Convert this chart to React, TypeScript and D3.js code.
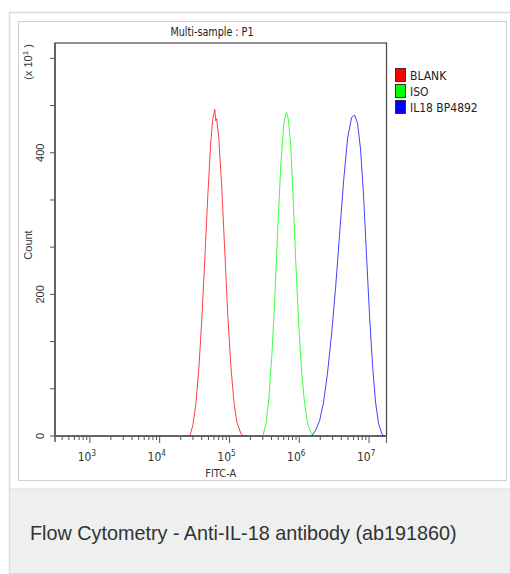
import React from "react";
import * as d3 from "d3";

// ---- data (log10 FITC-A exponent, count) ----
const blankLog = [4.432, 4.475, 4.518, 4.561, 4.604, 4.647, 4.690, 4.732, 4.761, 4.776, 4.790, 4.804, 4.818, 4.847, 4.890, 4.933, 4.976, 5.019, 5.062, 5.104, 5.162, 5.190];
const blankCount = [0, 15, 45, 95, 165, 250, 340, 415, 448, 455, 461, 445, 448, 420, 350, 260, 170, 100, 50, 20, 4, 0];

const isoLog = [5.476, 5.519, 5.562, 5.605, 5.648, 5.691, 5.734, 5.777, 5.805, 5.820, 5.848, 5.877, 5.906, 5.948, 5.991, 6.034, 6.077, 6.120, 6.163, 6.206];
const isoCount = [0, 15, 50, 110, 190, 290, 380, 440, 455, 457, 445, 410, 350, 250, 160, 90, 45, 18, 5, 0];

const il18Log = [6.177, 6.235, 6.292, 6.349, 6.406, 6.464, 6.521, 6.578, 6.635, 6.692, 6.750, 6.793, 6.835, 6.878, 6.921, 6.964, 7.007, 7.050, 7.093, 7.136, 7.179, 7.207];
const il18Count = [0, 8, 22, 48, 90, 145, 210, 285, 360, 420, 450, 453, 442, 405, 340, 255, 170, 100, 48, 18, 4, 0];

const seriesNames = ["BLANK", "ISO", "IL18 BP4892"];
const seriesColors = ["#ff0000", "#00ff00", "#0000ff"];

const yMajorTicks = [0, 200, 400];
const xMajorExps = [3, 4, 5, 6, 7];

const title = "Multi-sample : P1";
const xLabel = "FITC-A";
const yLabel = "Count";
const caption = "Flow Cytometry - Anti-IL-18 antibody (ab191860)";

export default function App() {
  const W = 510, H = 574;
  const left = 55, right = 386.5, top = 43, bottom = 436;
  const x = d3.scaleLog().domain([Math.pow(10, 2.5), Math.pow(10, 7.25)]).range([left, right]);
  const y = d3.scaleLinear().domain([0, 555]).range([bottom, top]);

  const series = [
    { logs: blankLog, counts: blankCount },
    { logs: isoLog, counts: isoCount },
    { logs: il18Log, counts: il18Count },
  ];
  const line = d3
    .line<[number, number]>()
    .x((d) => x(Math.pow(10, d[0])))
    .y((d) => y(d[1]));

  const xMinor: number[] = [];
  for (let e = 2; e <= 7; e++) {
    for (let m = 2; m <= 9; m++) {
      const v = m * Math.pow(10, e);
      if (v > x.domain()[0] && v < x.domain()[1]) xMinor.push(v);
    }
  }
  const yMinor = d3.range(0, 555, 200 / 3);

  const font = "'Liberation Sans', Arial, sans-serif";
  const narrow = "'Liberation Sans Narrow', 'DejaVu Sans Condensed', 'Liberation Sans', Arial, sans-serif";
  const axisColor = "#555";

  return (
    <svg width={W} height={H} style={{ position: "absolute", left: 0, top: 0 }} fontFamily={font}>
      <rect x={0} y={0} width={W} height={H} fill="#fff" />
      <rect x={9.5} y={12.5} width={W} height={561} fill="#fff" stroke="#dcdcdc" strokeWidth={1.5} />
      <rect x={10} y={489} width={W} height={84} fill="#eeefef" />
      <line x1={10} x2={W} y1={489} y2={489} stroke="#dcdcdc" strokeWidth={1} />
      <rect x={18.5} y={21.5} width={488} height={459} fill="#fff" stroke="#cfcfcf" strokeWidth={1} />

      <text x={212} y={36} textAnchor="middle" fontSize={12} fontFamily={narrow} textLength={83} lengthAdjust="spacingAndGlyphs" fill="#222">
        {title}
      </text>

      <rect x={left} y={top} width={right - left} height={bottom - top} fill="none" stroke="#444" strokeWidth={1.2} />
      <line x1={left} x2={left} y1={top} y2={bottom + 6} stroke={axisColor} strokeWidth={1.5} />
      <line x1={left} x2={right} y1={bottom} y2={bottom} stroke={axisColor} strokeWidth={1.5} />

      {yMinor.map((v) => (
        <line key={"ym" + v} x1={left - 5} x2={left} y1={y(v)} y2={y(v)} stroke={axisColor} strokeWidth={1} />
      ))}
      {yMajorTicks.map((v) => (
        <text key={"yl" + v} transform={`translate(44,${y(v)}) rotate(-90)`} textAnchor="middle" fontSize={11} fill="#333">
          {v}
        </text>
      ))}
      <text transform={`translate(32,245) rotate(-90)`} textAnchor="middle" fontSize={11} fill="#333">
        {yLabel}
      </text>
      <text transform={`translate(32,62) rotate(-90)`} textAnchor="middle" fontSize={11} fill="#333">
        (x 10<tspan dy={-4} fontSize={8}>1</tspan>
        <tspan dy={4}> )</tspan>
      </text>

      {xMinor.map((v) => (
        <line key={"xm" + v} x1={x(v)} x2={x(v)} y1={bottom} y2={bottom + 4} stroke={axisColor} strokeWidth={1} />
      ))}
      {xMajorExps.map((e) => (
        <g key={"xM" + e}>
          <line x1={x(Math.pow(10, e))} x2={x(Math.pow(10, e))} y1={bottom} y2={bottom + 7} stroke={axisColor} strokeWidth={1} />
          <text x={x(Math.pow(10, e)) - 3} y={461} textAnchor="middle" fontSize={12} fontFamily={narrow} fill="#333">
            10<tspan dy={-5} fontSize={8}>{e}</tspan>
          </text>
        </g>
      ))}
      <line x1={right} x2={right} y1={bottom} y2={bottom + 7} stroke={axisColor} strokeWidth={1} />
      <text x={(left + right) / 2} y={477} textAnchor="middle" fontSize={11} fontFamily={narrow} fill="#333">
        {xLabel}
      </text>

      {series.map((s, i) => (
        <path
          key={"s" + i}
          d={line(s.logs.map((l, j) => [l, s.counts[j]] as [number, number])) || ""}
          fill="none"
          stroke={seriesColors[i]}
          strokeOpacity={0.75}
          strokeWidth={1}
        />
      ))}

      {seriesNames.map((n, i) => (
        <g key={"lg" + i} transform={`translate(395,${68 + i * 16})`}>
          <rect x={0.5} y={0.5} width={10} height={13} fill={seriesColors[i]} stroke="#333" strokeWidth={1} />
          <text x={15} y={11.5} fontSize={12} fontFamily={narrow} fill="#222">
            {n}
          </text>
        </g>
      ))}

      <text x={30} y={540} fontSize={19.8} fill="#333">
        {caption}
      </text>
    </svg>
  );
}
